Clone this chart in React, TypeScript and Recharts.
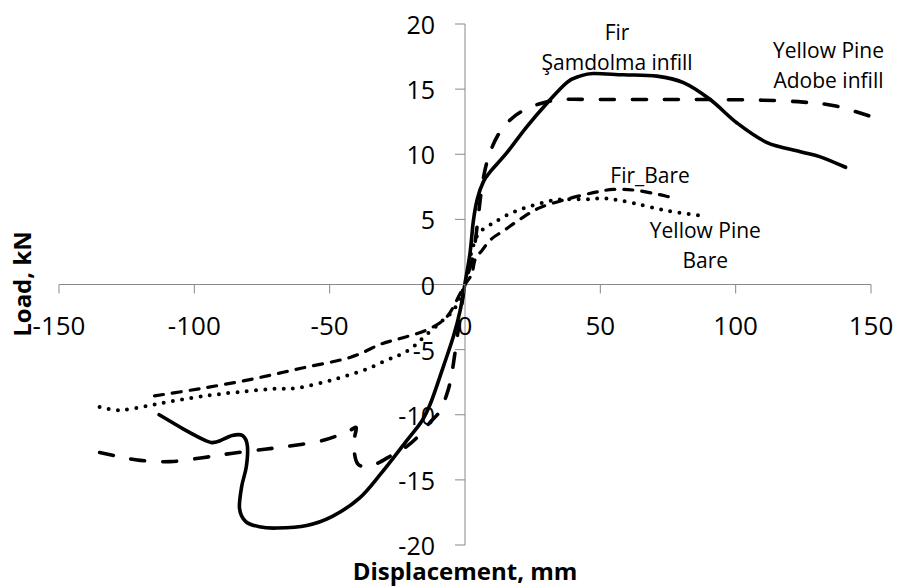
import { Line, LineChart, ReferenceDot, ReferenceLine, XAxis, YAxis } from "recharts";

const FONT = '"Open Sans", "Noto Sans", sans-serif';
const AXIS = "#898989";

const X_TICKS = [-150, -100, -50, 0, 50, 100, 150];
const Y_TICKS = [-20, -15, -10, -5, 0, 5, 10, 15, 20];

// Fir, Şamdolma infill (solid)
const firInfillX = [-113, -104, -95.6, -91.9, -86, -82.2, -80.4, -80.8, -82.5, -83.3, -81, -76, -69.6, -58.5, -49, -39, -31, -21.6, -16, -12.5, -8, -4.3, -1.8, 0, 1.85, 3.1, 4.6, 6.8, 9.5, 15.4, 22.8, 30.2, 37.6, 42.5, 47.4, 58.5, 70.9, 80.7, 90.6, 100.5, 111.6, 123.9, 131.3, 140.6];
const firInfillY = [-10, -11.1, -12, -12.1, -11.6, -11.6, -12.4, -14, -15.5, -17.2, -18.2, -18.6, -18.7, -18.5, -17.8, -16.4, -14.5, -12, -10.5, -9, -6.3, -4, -2, 0.1, 2.4, 4.9, 6.6, 7.9, 8.7, 10.1, 12.1, 13.9, 15.5, 16, 16.2, 16.1, 16, 15.5, 14.2, 12.4, 10.9, 10.2, 9.8, 9];

// Yellow Pine, Adobe infill (long dash)
const pineInfillX = [-135, -128, -120, -109, -97, -85.8, -74, -64.7, -54, -47, -42.5, -40.2, -40.8, -40.8, -39.5, -36, -32, -27, -22, -17.5, -13, -9.5, -7, -5, -2.5, 0, 2.8, 4.5, 5.8, 7.2, 9, 12, 16, 21, 28, 36, 50, 70, 90, 110, 125, 137, 150];
const pineInfillY = [-12.9, -13.2, -13.5, -13.6, -13.3, -12.95, -12.65, -12.4, -12.05, -11.6, -11.2, -11, -11.8, -13, -13.8, -14, -13.7, -13.1, -12.5, -11.7, -10.6, -9.8, -8.6, -7, -3.5, 0, 2, 4.5, 6.8, 8.6, 10, 11.4, 12.5, 13.3, 13.9, 14.2, 14.2, 14.2, 14.2, 14.15, 14, 13.7, 12.9];

// Fir, bare frame (short dash)
const firBareX = [-114.7, -98, -79.5, -61, -42.5, -31.4, -24, -14.2, -6.8, -1.8, 0, 2.5, 3.7, 6.2, 9.8, 14.8, 20.3, 27.7, 37.6, 47.4, 54.8, 62.2, 69.6, 75.1];
const firBareY = [-8.55, -8, -7.3, -6.45, -5.6, -4.6, -4.15, -3.5, -2.5, -0.7, 0, 0.8, 1.9, 2.6, 3.5, 4.2, 5, 5.9, 6.55, 7.05, 7.3, 7.25, 7, 6.75];

// Yellow Pine, bare frame (dotted)
const pineBareX = [-135, -127.6, -118, -108, -94, -81, -70, -62, -48.6, -36.3, -29, -24, -19.5, -15, -9, -4.3, -2, 0, 1.2, 2.5, 4.9, 8, 11.1, 16.6, 24, 33.8, 45, 52.4, 62.2, 75, 88.8];
const pineBareY = [-9.4, -9.65, -9.35, -8.95, -8.5, -8.2, -8, -7.95, -7.3, -6.5, -5.8, -5.4, -4.85, -4, -2.9, -2, -1, 0, 1.2, 2.6, 3.9, 4.4, 4.8, 5.45, 6, 6.5, 6.55, 6.6, 6.25, 5.65, 5.25];

const NOTES = [
  { text: "Fir", x: 56.2, y: 19.4 },
  { text: "Şamdolma infill", x: 56.2, y: 17.1 },
  { text: "Yellow Pine", x: 134.3, y: 18.0 },
  { text: "Adobe infill", x: 134.3, y: 15.7 },
  { text: "Fir_Bare", x: 68.4, y: 8.4 },
  { text: "Yellow Pine", x: 88.8, y: 4.2 },
  { text: "Bare", x: 88.8, y: 1.9 },
];

const zip = (xs: number[], ys: number[]) => xs.map((x, i) => ({ x, y: ys[i] }));

const SERIES = [
  { key: "firInfill", data: zip(firInfillX, firInfillY), width: 3.6, dash: undefined },
  { key: "pineInfill", data: zip(pineInfillX, pineInfillY), width: 3.6, dash: "14 18" },
  { key: "firBare", data: zip(firBareX, firBareY), width: 3.2, dash: "9 9" },
  { key: "pineBare", data: zip(pineBareX, pineBareY), width: 4, dash: "0 9.3" },
];

// Excel-like smoothing (Catmull-Rom through every point, works for loops)
function smooth(ctx: any) {
  let pts: number[][] = [];
  return {
    areaStart() {},
    areaEnd() {},
    lineStart() { pts = []; },
    point(x: number, y: number) { pts.push([+x, +y]); },
    lineEnd() {
      if (!pts.length) return;
      ctx.moveTo(pts[0][0], pts[0][1]);
      for (let i = 0; i < pts.length - 1; i++) {
        const p0 = pts[Math.max(i - 1, 0)];
        const p1 = pts[i];
        const p2 = pts[i + 1];
        const p3 = pts[Math.min(i + 2, pts.length - 1)];
        ctx.bezierCurveTo(
          p1[0] + (p2[0] - p0[0]) / 6, p1[1] + (p2[1] - p0[1]) / 6,
          p2[0] - (p3[0] - p1[0]) / 6, p2[1] - (p3[1] - p1[1]) / 6,
          p2[0], p2[1],
        );
      }
    },
  };
}

const xTick = (label: number) => (p: any) => (
  <g>
    <line x1={p.cx} x2={p.cx} y1={p.cy} y2={p.cy + 9} stroke={AXIS} strokeWidth={1} />
    <text x={p.cx} y={p.cy + 40} textAnchor="middle" dominantBaseline="central"
      fontFamily={FONT} fontSize={26} fill="#000">{label}</text>
  </g>
);

const yTick = (label: number) => (p: any) => (
  <g>
    <line x1={p.cx - 10} x2={p.cx} y1={p.cy} y2={p.cy} stroke={AXIS} strokeWidth={1} />
    <text x={p.cx - 30} y={p.cy} textAnchor="end" dominantBaseline="central"
      fontFamily={FONT} fontSize={25} fill="#000">{label}</text>
  </g>
);

const note = (text: string) => (p: any) => (
  <text x={p.cx} y={p.cy} textAnchor="middle" dominantBaseline="central"
    fontFamily={FONT} fontSize={21} fill="#000">{text}</text>
);

export default function App() {
  return (
    <div style={{ position: "absolute", left: 0, top: 0, width: 900, height: 587, background: "#fff" }}>
      <LineChart width={900} height={587} margin={{ top: 24, right: 29, bottom: 42, left: 59 }}>
        <XAxis type="number" dataKey="x" domain={[-150, 150]} allowDataOverflow hide />
        <YAxis type="number" dataKey="y" domain={[-20, 20]} allowDataOverflow hide />
        <ReferenceLine x={0} stroke={AXIS} strokeWidth={1} />
        <ReferenceLine y={0} stroke={AXIS} strokeWidth={1} />
        {X_TICKS.map((v) => (
          <ReferenceDot key={"xt" + v} x={v} y={0} ifOverflow="visible" shape={xTick(v)} />
        ))}
        {Y_TICKS.map((v) => (
          <ReferenceDot key={"yt" + v} x={0} y={v} ifOverflow="visible" shape={yTick(v)} />
        ))}
        {SERIES.map((s) => (
          <Line key={s.key} data={s.data} dataKey="y" type={smooth as any} stroke="#000"
            strokeWidth={s.width} strokeDasharray={s.dash} strokeLinecap="round"
            strokeLinejoin="round" dot={false} activeDot={false} isAnimationActive={false} />
        ))}
        {NOTES.map((n, i) => (
          <ReferenceDot key={"n" + i} x={n.x} y={n.y} ifOverflow="visible" shape={note(n.text)} />
        ))}
      </LineChart>
      <div style={{
        position: "absolute", left: 465, top: 571, transform: "translate(-50%, -50%)",
        fontFamily: FONT, fontWeight: 700, fontSize: 24, lineHeight: 1, whiteSpace: "nowrap", color: "#000",
      }}>Displacement, mm</div>
      <div style={{
        position: "absolute", left: 22, top: 284, transform: "translate(-50%, -50%) rotate(-90deg)",
        fontFamily: FONT, fontWeight: 700, fontSize: 24, lineHeight: 1, whiteSpace: "nowrap", color: "#000",
      }}>Load, kN</div>
    </div>
  );
}
